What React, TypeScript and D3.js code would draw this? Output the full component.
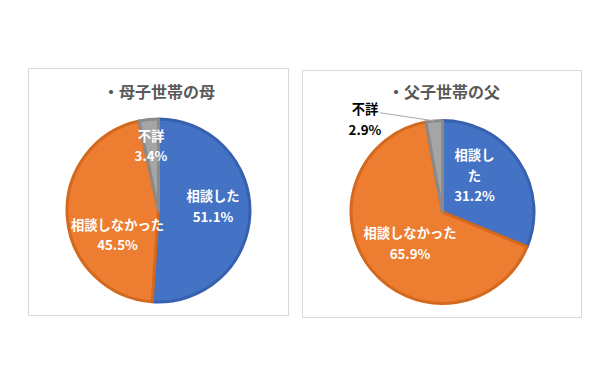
import React from "react";
import * as d3 from "d3";

// chart data
const categories = ["相談した", "相談しなかった", "不詳"];
const motherValues = [51.1, 45.5, 3.4];
const fatherValues = [31.2, 65.9, 2.9];
const titles = ["・母子世帯の母", "・父子世帯の父"];

const fills = ["#4472C4", "#ED7D31", "#A5A5A5"];
const strokes = ["#3761AE", "#D2691F", "#8A8A8A"];
const font = "'Noto Sans CJK JP', 'Noto Sans', sans-serif";

// layout of each panel; label offsets are relative to the pie centre
const panels = [
  {
    values: motherValues,
    title: titles[0],
    frame: { x: 28.5, y: 68.5, w: 260, h: 247 },
    cx: 158.5,
    cy: 210.5,
    titleX: 159,
    titleY: 92,
    labels: [
      { dx: 54.5, dy: -3.5, lines: ["相談した"], inside: true },
      { dx: -41, dy: 25, lines: ["相談しなかった"], inside: true },
      { dx: -7.5, dy: -64, lines: ["不詳"], inside: true },
    ],
  },
  {
    values: fatherValues,
    title: titles[1],
    frame: { x: 302.5, y: 70.5, w: 279, h: 247 },
    cx: 442.5,
    cy: 212,
    titleX: 444,
    titleY: 92,
    labels: [
      { dx: 32, dy: -36, lines: ["相談し", "た"], inside: true },
      { dx: -32.5, dy: 32, lines: ["相談しなかった"], inside: true },
      { dx: -77.5, dy: -92, lines: ["不詳"], inside: false },
    ],
  },
];

const radius = 91.5;
const lineH = 20.5;

function PiePanel({ p }) {
  const pie = d3
    .pie<number>()
    .sort(null)
    .value((d) => d);
  const arcs = pie(p.values);
  const arc = d3.arc<d3.PieArcDatum<number>>().innerRadius(0).outerRadius(radius);

  return (
    <g>
      <rect
        x={p.frame.x}
        y={p.frame.y}
        width={p.frame.w}
        height={p.frame.h}
        fill="#fff"
        stroke="#D9D9D9"
        strokeWidth={1}
      />
      <text
        x={p.titleX}
        y={p.titleY}
        dy="0.35em"
        textAnchor="middle"
        fontFamily={font}
        fontWeight="bold"
        fontSize={16}
        fill="#595959"
      >
        {p.title}
      </text>
      <g transform={`translate(${p.cx},${p.cy})`}>
        {arcs.map((a, i) => (
          <path
            key={i}
            d={arc(a) || ""}
            fill={fills[i]}
            stroke={strokes[i]}
            strokeWidth={3}
            strokeLinejoin="round"
          />
        ))}
        {arcs.map((a, i) => {
          const lab = p.labels[i];
          const lines = [...lab.lines, `${a.data.toFixed(1)}%`];
          const y0 = lab.dy - ((lines.length - 1) * lineH) / 2;
          let leader = null;
          if (!lab.inside) {
            const mid = (a.startAngle + a.endAngle) / 2;
            const ex = Math.sin(mid) * radius;
            const ey = -Math.cos(mid) * radius;
            leader = (
              <line
                x1={lab.dx + 15}
                y1={y0 + 3}
                x2={ex}
                y2={ey}
                stroke="#A6A6A6"
                strokeWidth={1}
              />
            );
          }
          return (
            <g key={"l" + i}>
              {leader}
              <text
                textAnchor="middle"
                fontFamily={font}
                fontWeight="bold"
                fontSize={13.3}
                fill={lab.inside ? "#fff" : "#000"}
              >
                {lines.map((t, j) => (
                  <tspan key={j} x={lab.dx} y={y0 + j * lineH} dy="0.35em">
                    {t}
                  </tspan>
                ))}
              </text>
            </g>
          );
        })}
      </g>
    </g>
  );
}

export default function App() {
  return (
    <svg
      width={603}
      height={391}
      style={{ position: "absolute", left: 0, top: 0, background: "#fff" }}
    >
      <rect width={603} height={391} fill="#fff" />
      {panels.map((p, i) => (
        <PiePanel key={i} p={p} />
      ))}
    </svg>
  );
}
